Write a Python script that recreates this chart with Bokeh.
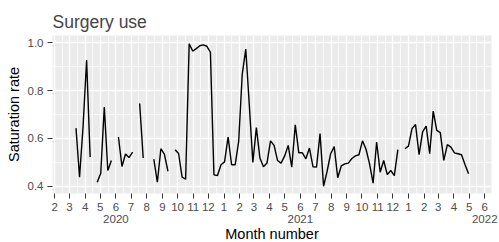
import numpy as np
import pandas as pd
from bokeh.plotting import figure
from bokeh.models import ColumnDataSource, FixedTicker, LinearAxis, Range1d, PrintfTickFormatter
from bokeh.embed import file_html
from bokeh.resources import INLINE

# ---------------- data ----------------
title_text = "Surgery use"
x_label = "Month number"
y_label = "Saturation rate"

first_week = "2020-03-14"          # weekly series, NaN = missing week
rate = [
    0.643, 0.438, 0.650, 0.928, 0.522, np.nan,
    0.417, 0.455, 0.731, 0.466, 0.508, np.nan,
    0.606, 0.483, 0.535, 0.520, 0.543, np.nan,
    0.746, 0.518, np.nan, np.nan,
    0.514, 0.417, 0.557, 0.533, 0.463, np.nan,
    0.553, 0.537, 0.438, 0.430, 0.995, 0.965, 0.975, 0.987, 0.991, 0.985,
    0.960, 0.448, 0.445, 0.490, 0.502, 0.606, 0.490, 0.490, 0.588, 0.868,
    0.973, 0.740, 0.500, 0.645, 0.518, 0.482, 0.497, 0.590, 0.571, 0.507,
    0.497, 0.527, 0.571, 0.480, 0.657, 0.540, 0.540, 0.515, 0.560, 0.482,
    0.480, 0.620, 0.400, 0.463, 0.536, 0.566, 0.436, 0.485, 0.494, 0.497,
    0.516, 0.527, 0.532, 0.590, 0.555, 0.494, 0.413, 0.585, 0.459, 0.508,
    0.449, 0.466, 0.445, 0.553, np.nan,
    0.557, 0.568, 0.641, 0.658, 0.532, 0.627, 0.652, 0.536, 0.714, 0.634,
    0.624, 0.508, 0.574, 0.564, 0.540, 0.536, 0.532, 0.490, 0.452,
]

tick_months = pd.date_range("2020-02-01", "2022-06-01", freq="MS")
month_labels = [str(d.month) for d in tick_months]
year_tick_dates = ["2020-06-01", "2021-06-01", "2022-06-01"]
year_labels = ["2020", "2021", "2022"]
y_ticks = [0.4, 0.6, 0.8, 1.0]
y_minor = [0.5, 0.7, 0.9]


def ms(d):
    return float(pd.Timestamp(d).value // 10**6)


dates = pd.date_range(first_week, periods=len(rate), freq="7D")
src = ColumnDataSource(dict(x=[ms(d) for d in dates], y=rate))

month_ms = [ms(d) for d in tick_months]
minor_ms = [(a + b) / 2 for a, b in zip(month_ms[:-1], month_ms[1:])]
year_ms = [ms(d) for d in year_tick_dates]

FONT = "Liberation Sans"

p = figure(frame_width=439, frame_height=158, output_backend="svg", toolbar_location=None,
           x_range=Range1d(ms("2020-01-27 12:00"), ms("2022-06-14 08:00")),
           y_range=Range1d(0.37, 1.03),
           min_border_left=52, min_border_right=8, min_border_top=35, min_border_bottom=40)

p.background_fill_color = "#EBEBEB"
p.border_fill_color = "white"
p.outline_line_color = None

# title
p.title.text = title_text
p.title.text_font = FONT
p.title.text_font_size = "17.5px"
p.title.text_font_style = "normal"
p.title.align = "left"
p.title.standoff = 7

# x (month) axis
xa = p.xaxis[0]
xa.ticker = FixedTicker(ticks=month_ms, minor_ticks=minor_ms)
xa.major_label_overrides = {t: l for t, l in zip(month_ms, month_labels)}
xa.axis_line_color = None
xa.major_tick_in = 0
xa.major_tick_out = 5
xa.minor_tick_in = 0
xa.minor_tick_out = 0
xa.major_tick_line_color = "#333333"
xa.major_label_text_color = "#4D4D4D"
xa.major_label_text_font = FONT
xa.major_label_text_font_size = "11.5px"
xa.major_label_standoff = 4

# year axis below
ya2 = LinearAxis(ticker=FixedTicker(ticks=year_ms),
                 major_label_overrides={t: l for t, l in zip(year_ms, year_labels)},
                 axis_label=x_label)
ya2.axis_line_color = None
ya2.major_tick_line_color = None
ya2.major_tick_in = 0
ya2.major_tick_out = 0
ya2.minor_tick_in = 0
ya2.minor_tick_out = 0
ya2.major_label_text_color = "#4D4D4D"
ya2.major_label_text_font = FONT
ya2.major_label_text_font_size = "11.5px"
ya2.major_label_standoff = 1
ya2.axis_label_text_font = FONT
ya2.axis_label_text_font_size = "14.5px"
ya2.axis_label_text_font_style = "normal"
ya2.axis_label_text_color = "black"
ya2.axis_label_standoff = 0
p.add_layout(ya2, "below")

# y axis
ya = p.yaxis[0]
ya.ticker = FixedTicker(ticks=y_ticks, minor_ticks=y_minor)
ya.formatter = PrintfTickFormatter(format="%.1f")
ya.axis_line_color = None
ya.major_tick_in = 0
ya.major_tick_out = 5
ya.minor_tick_in = 0
ya.minor_tick_out = 0
ya.major_tick_line_color = "#333333"
ya.major_label_text_color = "#4D4D4D"
ya.major_label_text_font = FONT
ya.major_label_text_font_size = "11.5px"
ya.major_label_standoff = 4
ya.axis_label = y_label
ya.axis_label_text_font = FONT
ya.axis_label_text_font_size = "14.5px"
ya.axis_label_text_font_style = "normal"
ya.axis_label_text_color = "black"
ya.axis_label_standoff = 3

# grids
for g in (p.xgrid[0], p.ygrid[0]):
    g.grid_line_color = "white"
    g.grid_line_width = 1.3
    g.minor_grid_line_color = "white"
    g.minor_grid_line_width = 0.7
p.xgrid[0].ticker = xa.ticker
p.ygrid[0].ticker = ya.ticker

p.line("x", "y", source=src, line_color="black", line_width=1.4)

open("out.html", "w").write(file_html(p, INLINE))
